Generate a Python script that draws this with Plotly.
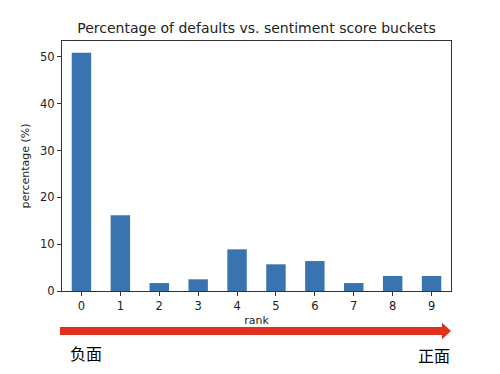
import plotly.graph_objects as go

ranks = ["0", "1", "2", "3", "4", "5", "6", "7", "8", "9"]
percentages = [50.9, 16.2, 1.7, 2.5, 8.9, 5.7, 6.4, 1.7, 3.2, 3.2]
y_ticks = [0, 10, 20, 30, 40, 50]

OFF = 8  # default page body margin
L, R, T, B = 62 - OFF, 451 - OFF, 41 - OFF, 291 - OFF
W, H = 500 - OFF, 374 - OFF
pw, ph = R - L, B - T

def px(x):
    return (x - OFF - L) / pw

def py(y):
    return (B - (y - OFF)) / ph

fig = go.Figure(go.Bar(
    x=list(range(len(ranks))), y=percentages, width=0.5,
    marker=dict(color="#3a74b0", line=dict(width=0)),
))

axis_common = dict(showline=True, linecolor="#333333", linewidth=1, mirror=True,
                   ticks="outside", ticklen=4, tickcolor="#333333", showgrid=False,
                   zeroline=False, tickfont=dict(family="DejaVu Sans", size=11.5, color="#222222"))

fig.update_xaxes(range=[-0.5, 9.5], tickmode="array", tickvals=list(range(len(ranks))),
                 ticktext=ranks, title=dict(text="rank", standoff=4,
                 font=dict(family="DejaVu Sans", size=11, color="#222222")), **axis_common)
fig.update_yaxes(range=[0, 53.4], tickmode="array", tickvals=y_ticks,
                 title=dict(text="percentage (%)", standoff=8,
                 font=dict(family="DejaVu Sans", size=11, color="#222222")), **axis_common)

arrow_path = (f"M {px(60)},{py(327)} L {px(442)},{py(327)} L {px(442)},{py(322.7)} "
              f"L {px(451)},{py(331)} L {px(442)},{py(339.3)} L {px(442)},{py(335)} "
              f"L {px(60)},{py(335)} Z")

fig.update_layout(
    width=W, height=H,
    margin=dict(l=L, r=W - R, t=T, b=H - B),
    paper_bgcolor="white", plot_bgcolor="white",
    showlegend=False,
    title=dict(text="Percentage of defaults vs. sentiment score buckets",
               x=(256.5 - OFF) / W, xanchor="center",
               y=1 - (28 - OFF) / H, yanchor="middle",
               font=dict(family="DejaVu Sans", size=14, color="#222222")),
    shapes=[dict(type="path", xref="paper", yref="paper", path=arrow_path,
                 fillcolor="#e0301e", line=dict(width=0))],
    annotations=[
        dict(text="负面", xref="paper", yref="paper", x=px(86), y=py(353),
             showarrow=False, xanchor="center", yanchor="middle",
             font=dict(family="Noto Sans CJK SC", size=16, color="black")),
        dict(text="正面", xref="paper", yref="paper", x=px(434), y=py(355),
             showarrow=False, xanchor="center", yanchor="middle",
             font=dict(family="Noto Sans CJK SC", size=16, color="black")),
    ],
)

fig.write_html("out.html")
